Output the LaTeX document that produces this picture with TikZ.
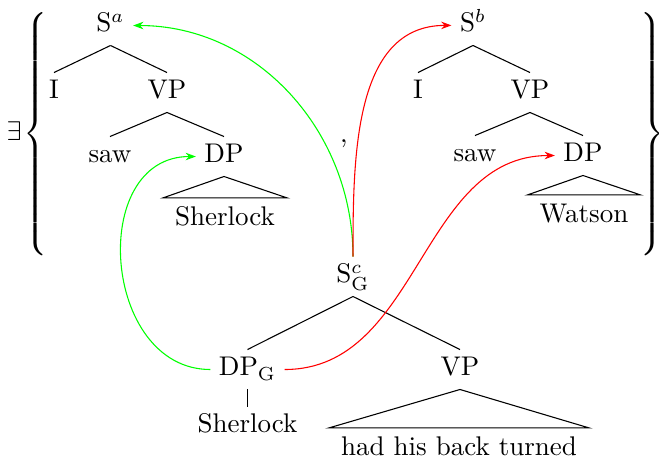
\documentclass[tikz,border=0pt]{standalone}
\usetikzlibrary{arrows.meta}
\tikzset{every picture/.style={line width=0.4pt}}

\begin{document}
\begin{tikzpicture}[x=0.3704pt,y=0.3704pt,yscale=-1,xscale=1,
  cat/.style={anchor=base,inner xsep=3pt,inner ysep=1.2pt,execute at begin node=\strut},
  roofleaf/.style={anchor=base,inner xsep=4.3pt,inner ysep=1.8pt,execute at begin node=\strut},
  movegreen/.style={color={rgb, 255:red, 0; green, 255; blue, 0 },-{Stealth[length=3.8pt,width=2.8pt]}},
  movered/.style={color={rgb, 255:red, 255; green, 0; blue, 0 },-{Stealth[length=3.8pt,width=2.8pt]}}]
\useasboundingbox (0,0) rectangle (659,458);

% Text Node
\node [inner sep=0pt] (exists) at (14,131) {$\exists$};
% Text Node
\node [inner sep=0pt] (lbrace) at (37,134) {$\delimiterfactor=1000 \delimitershortfall=0pt \left\{\vrule height 46.5pt depth 41.5pt width 0pt\right.$};
% Text Node
\node [inner sep=0pt] (rbrace) at (651,134) {$\delimiterfactor=1000 \delimitershortfall=0pt \left.\vrule height 46.5pt depth 41.5pt width 0pt\right\}$};
% Text Node
\node [anchor=base] (comma) at (344,143) {,};

%first tree
\node [cat] (Sa) at (110.5,32) {S$^a$};
\node [cat] (Ia) at (54,99) {I};
\node [cat] (VPa) at (167,99) {VP};
\node [cat] (sawa) at (110,163) {saw};
\node [cat] (DPa) at (224,163) {DP};
\node [roofleaf] (Sherla) at (225,226) {Sherlock};
%Straight Lines
\draw (Sa.south) -- (Ia.north);
\draw (Sa.south) -- (VPa.north);
\draw (VPa.south) -- (sawa.north);
\draw (VPa.south) -- (DPa.north);
\draw (DPa.south) -- (Sherla.north west) -- (Sherla.north east) -- cycle;

%second tree
\node [cat] (Sb) at (473,32) {S$^b$};
\node [cat] (Ib) at (418,99) {I};
\node [cat] (VPb) at (530,99) {VP};
\node [cat] (sawb) at (475,162) {saw};
\node [cat] (DPb) at (583,162) {DP};
\node [roofleaf] (Wats) at (584,223) {Watson};
%Straight Lines
\draw (Sb.south) -- (Ib.north);
\draw (Sb.south) -- (VPb.north);
\draw (VPb.south) -- (sawb.north);
\draw (VPb.south) -- (DPb.north);
\draw (DPb.south) -- (Wats.north west) -- (Wats.north east) -- cycle;

%third tree
\node [cat] (Sc) at (353,283) {S$^c_{\mathrm{G}}$};
\node [cat] (DPG) at (247.5,376) {DP$_{\mathrm{G}}$};
\node [cat] (VPc) at (460,376) {VP};
\node [cat] (SherlG) at (247.5,433) {Sherlock};
\node [roofleaf] (hhbt) at (459,456) {had his back turned};
%Straight Lines
\draw (Sc.south) -- (DPG.north);
\draw (Sc.south) -- (VPc.north);
\draw (DPG.south) -- (SherlG.north);
\draw (VPc.south) -- (hhbt.north west) -- (hhbt.north east) -- cycle;

%Curves (y runs downwards, so up is -90)
\draw [movegreen] (Sc.north) to[out=-90,in=0] (Sa.east);
\draw [movered] (Sc.north) to[out=-90,in=180] (Sb.west);
\draw [movegreen] (DPG.west) to[out=180,in=180,looseness=1.3] (DPa.west);
\draw [movered] (DPG.east) to[out=0,in=180] (DPb.west);

\end{tikzpicture}
\end{document}
